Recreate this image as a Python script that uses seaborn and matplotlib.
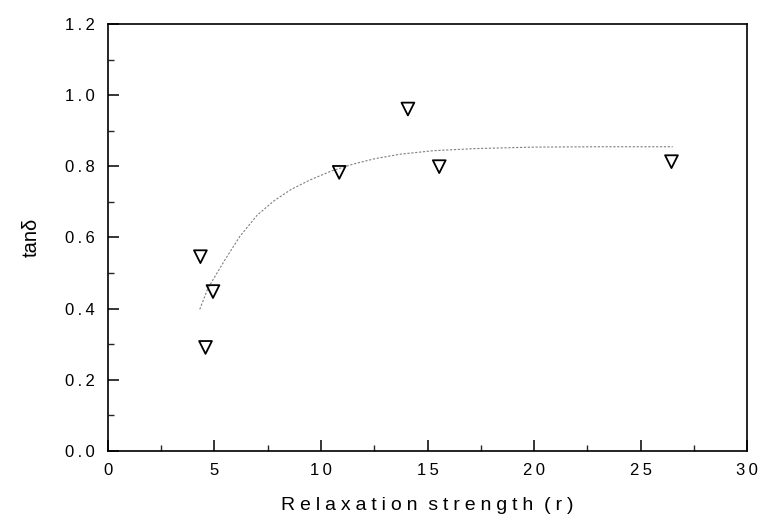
import matplotlib
matplotlib.use("Agg")
import matplotlib.pyplot as plt
from matplotlib.ticker import MultipleLocator, FuncFormatter
import seaborn as sns
import pandas as pd

# measured points
r_vals = [4.35, 4.59, 4.94, 10.86, 14.08, 15.55, 26.44]
tan_vals = [0.546, 0.291, 0.448, 0.783, 0.961, 0.799, 0.813]

# fitted curve
curve_r = [4.32, 4.7, 5.5, 6.2, 7.0, 7.8, 8.6, 9.5, 10.5, 11.5, 12.5, 13.7, 15.3, 17.3, 20.0, 23.0, 26.5]
curve_t = [0.398, 0.457, 0.537, 0.603, 0.662, 0.703, 0.735, 0.762, 0.787, 0.806, 0.821, 0.834, 0.844, 0.850, 0.854, 0.855, 0.855]

xlabel = "Relaxation strength (r)"
ylabel = "tan\u03b4"

sns.set_theme(style="white")
plt.rcParams['font.family'] = ['Liberation Sans', 'DejaVu Sans']

def spaced(s, sep="\u2005"):
    words = s.split(" ")
    return ("  ").join(sep.join(w) for w in words)

fig = plt.figure(figsize=(7.58, 5.17), dpi=100)
ax = fig.add_axes([0.142, 0.1277, 0.844, 0.8259])

pts = pd.DataFrame({"r": r_vals, "t": tan_vals})
crv = pd.DataFrame({"r": curve_r, "t": curve_t})

sns.lineplot(data=crv, x="r", y="t", ax=ax, color="0.5", linewidth=0.8,
             linestyle=(0, (2.0, 1.5)), sort=False)
sns.scatterplot(data=pts, x="r", y="t", ax=ax, marker="v", s=85,
                facecolor="none", edgecolor="black", linewidth=1.3, zorder=3)

ax.set_xlim(0, 30)
ax.set_ylim(0, 1.2)
ax.xaxis.set_major_locator(MultipleLocator(5))
ax.xaxis.set_minor_locator(MultipleLocator(2.5))
ax.yaxis.set_major_locator(MultipleLocator(0.2))
ax.yaxis.set_minor_locator(MultipleLocator(0.1))

ax.xaxis.set_major_formatter(FuncFormatter(lambda v, p: "\u2009".join(f"{v:.0f}")))
ax.yaxis.set_major_formatter(FuncFormatter(lambda v, p: "\u2009".join(f"{v:.1f}")))

ax.tick_params(axis="both", which="major", direction="in", length=8, width=1.1,
               labelsize=12, colors="black", pad=9,
               top=False, right=False, bottom=True, left=True)
ax.tick_params(axis="both", which="minor", direction="in", length=4, width=1.0,
               top=False, right=False, bottom=True, left=True)
for side in ["left", "bottom", "right", "top"]:
    ax.spines[side].set_visible(True)
    ax.spines[side].set_color("black")
    ax.spines[side].set_linewidth(1.2)

ax.set_xlabel(spaced(xlabel), fontsize=14, labelpad=13, color="black")
ax.set_ylabel(ylabel, fontsize=14.5, labelpad=18, color="black")

fig.savefig("out.png", dpi=100)
